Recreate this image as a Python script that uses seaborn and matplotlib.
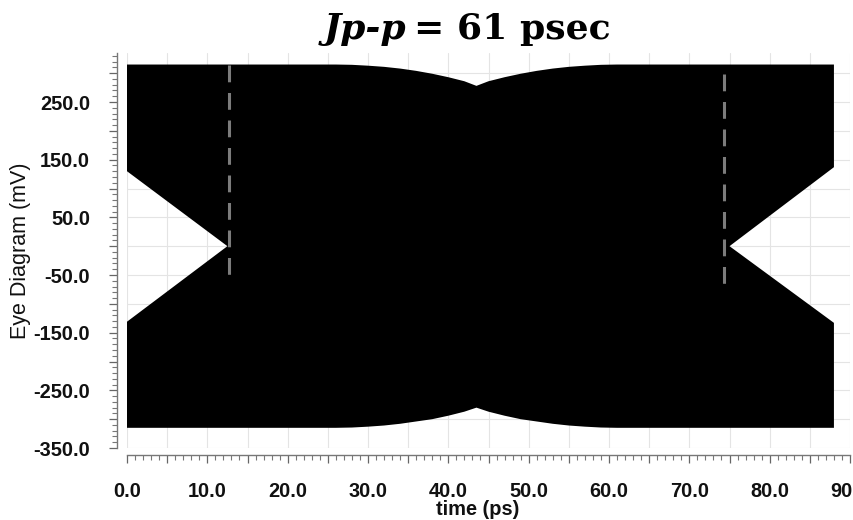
import numpy as np
import pandas as pd
import matplotlib
matplotlib.use("Agg")
import matplotlib.pyplot as plt
from matplotlib.ticker import MultipleLocator, FuncFormatter
import seaborn as sns

# ---- data (time in ps, voltage in mV) ----
env_t = [0, 26, 28, 30, 32, 34, 36, 38, 40, 42, 43.5,
         45, 47, 49, 51, 53, 55, 57, 59, 61, 88.0]
env_top = [315, 315, 314.5, 313, 311, 308, 304, 299, 293, 286, 278,
           286, 293, 299, 304, 308, 311, 313, 314.5, 315, 315]
env_bottom = [-315, -315, -314.5, -313, -311, -308, -304, -300, -294, -287, -280,
              -287, -294, -300, -304, -308, -311, -313, -314.5, -315, -315]

eye_left_t = [0, 12.5, 0]
eye_left_v = [130, 0, -131]
eye_right_t = [88.0, 75, 88.0]
eye_right_v = [137, 0, -133]

jitter_t = [12.75, 74.3]
jitter_top = [315, 299]
jitter_bottom = [-52, -72]

x_ticks = [0, 10, 20, 30, 40, 50, 60, 70, 80, 90]
y_ticks = [-350, -250, -150, -50, 50, 150, 250]

title_italic = "Jp-p"
title_rest = "= 61 psec"
x_label = "time (ps)"
y_label = "Eye Diagram (mV)"

# ---- build the eye polygon outline ----
poly_t = ([eye_left_t[0]] + env_t + [eye_right_t[0], eye_right_t[1], eye_right_t[2]]
          + env_t[::-1] + [eye_left_t[2], eye_left_t[1]])
poly_v = ([eye_left_v[0]] + env_top + [eye_right_v[0], eye_right_v[1], eye_right_v[2]]
          + env_bottom[::-1] + [eye_left_v[2], eye_left_v[1]])

jit = pd.DataFrame({
    "t": [jitter_t[0], jitter_t[0], jitter_t[1], jitter_t[1]],
    "v": [jitter_top[0], jitter_bottom[0], jitter_top[1], jitter_bottom[1]],
    "id": [0, 0, 1, 1],
})

sns.set_theme(style="white")
plt.rcParams["font.family"] = ["Liberation Sans", "DejaVu Sans"]

fig = plt.figure(figsize=(8.54, 5.2), dpi=100)
ax = fig.add_axes([127 / 854, 1 - 448 / 520, (850 - 127) / 854, (448 - 53) / 520])

ax.fill(poly_t, poly_v, color="black", lw=0, zorder=2)
sns.lineplot(data=jit, x="t", y="v", units="id", estimator=None, sort=False,
             color="#7c7c7c", lw=2.2, ax=ax, zorder=3, legend=False)
for line in ax.get_lines():
    line.set_dashes([5.5, 3.5])

ax.set_xlim(0, 90)
ax.set_ylim(-350, 335)

# grid every 5 ps / 50 mV, labels every 10 ps / 100 mV
ax.xaxis.set_major_locator(MultipleLocator(5))
ax.xaxis.set_minor_locator(MultipleLocator(1))
ax.yaxis.set_major_locator(MultipleLocator(50))
ax.yaxis.set_minor_locator(MultipleLocator(10))
ax.xaxis.set_major_formatter(FuncFormatter(lambda v, p: f"{v:.1f}" if int(round(v)) in x_ticks else ""))
ax.yaxis.set_major_formatter(FuncFormatter(lambda v, p: f"{v:.1f}" if int(round(v)) in y_ticks else ""))

ax.grid(True, which="major", color="#e4e4e4", lw=0.8, zorder=0)
ax.set_axisbelow(True)

for s in ["top", "right"]:
    ax.spines[s].set_visible(False)
ax.spines["left"].set_position(("outward", 7.2))
ax.spines["bottom"].set_position(("outward", 5))
for s in ["left", "bottom"]:
    ax.spines[s].set_color("#777777")
    ax.spines[s].set_linewidth(1.0)

ax.tick_params(axis="both", which="both", bottom=True, left=True, top=False, right=False)
ax.tick_params(axis="both", which="major", direction="out", length=6, width=0.9,
               color="#666666", labelsize=14.4, labelcolor="#111111")
ax.tick_params(axis="both", which="minor", direction="out", length=3.5, width=0.8,
               color="#777777")
ax.tick_params(axis="x", which="major", pad=13.5)
ax.tick_params(axis="y", which="major", pad=13.5)
for lab in ax.get_xticklabels() + ax.get_yticklabels():
    lab.set_fontweight("bold")

ax.set_xlabel(x_label, fontsize=14.4, fontweight="bold", color="#111111")
ax.xaxis.set_label_coords((478 - 127) / 723, -0.132)
ax.set_ylabel(y_label, fontsize=15.5, color="#111111")
ax.yaxis.set_label_coords((31 - 127) / 723, 0.5)

fig.text(406 / 854, 1 - 39 / 520, title_italic, fontsize=26, fontweight="bold",
         fontstyle="italic", family="DejaVu Serif", ha="right", va="baseline", color="black")
fig.text(414 / 854, 1 - 39 / 520, title_rest, fontsize=26, fontweight="bold",
         family="DejaVu Serif", ha="left", va="baseline", color="black")

fig.savefig("out.png", dpi=100, facecolor="white")
